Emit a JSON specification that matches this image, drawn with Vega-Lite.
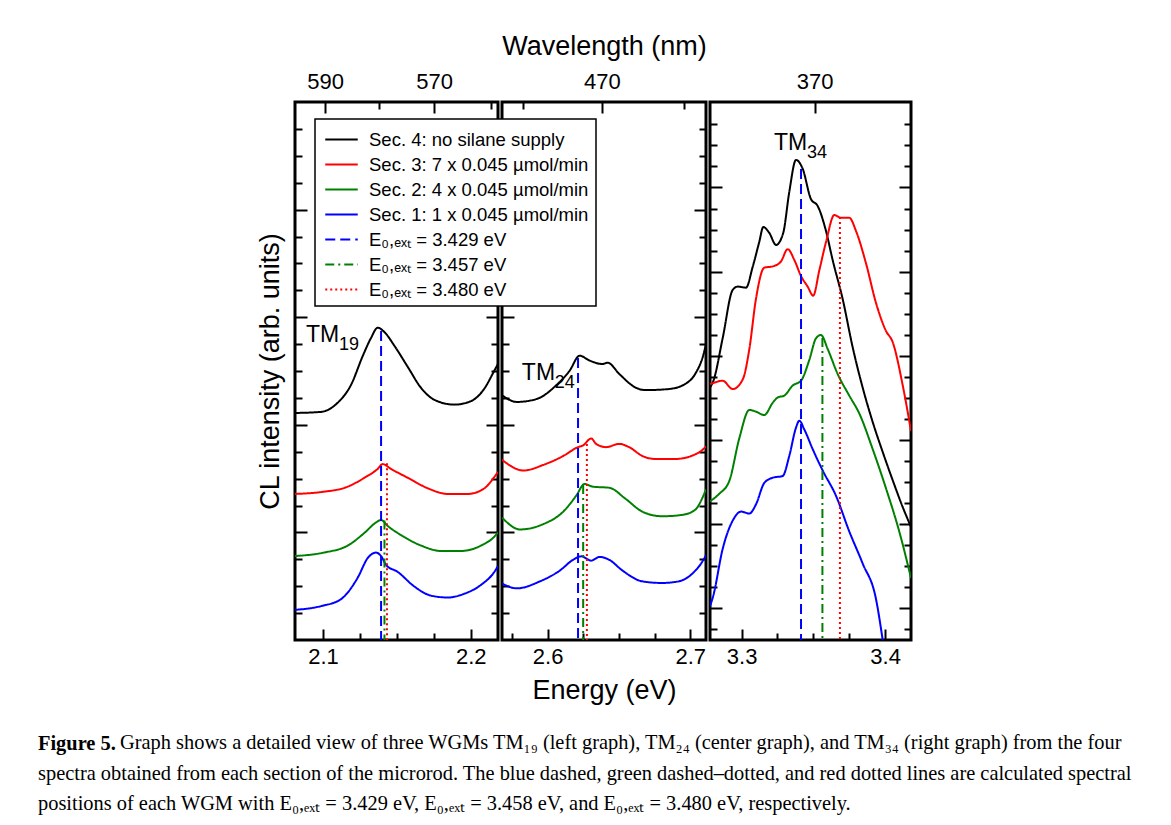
{
  "$schema": "https://vega.github.io/schema/vega-lite/v6.json",
  "background": "white",
  "padding": {"left": 36, "top": 30, "right": 5, "bottom": 5},
  "bounds": "flush",
  "spacing": 4,
  "datasets": {
    "spectra": [
      {"p":1,"s":"S4","E":2.081,"I":8.44},{"p":1,"s":"S4","E":2.0986,"I":8.48},{"p":1,"s":"S4","E":2.1099,"I":8.82},{"p":1,"s":"S4","E":2.1189,"I":9.48},{"p":1,"s":"S4","E":2.1269,"I":10.56},{"p":1,"s":"S4","E":2.1325,"I":11.23},{"p":1,"s":"S4","E":2.137,"I":11.61},{"p":1,"s":"S4","E":2.1415,"I":11.45},{"p":1,"s":"S4","E":2.1483,"I":10.94},{"p":1,"s":"S4","E":2.1574,"I":10.15},{"p":1,"s":"S4","E":2.1664,"I":9.37},{"p":1,"s":"S4","E":2.1754,"I":8.93},{"p":1,"s":"S4","E":2.1889,"I":8.75},{"p":1,"s":"S4","E":2.2002,"I":8.88},{"p":1,"s":"S4","E":2.2093,"I":9.35},{"p":1,"s":"S4","E":2.216,"I":10.01},{"p":1,"s":"S4","E":2.2185,"I":10.26},
      {"p":1,"s":"S3","E":2.081,"I":5.43},{"p":1,"s":"S3","E":2.0986,"I":5.5},{"p":1,"s":"S3","E":2.1167,"I":5.7},{"p":1,"s":"S3","E":2.128,"I":6.03},{"p":1,"s":"S3","E":2.137,"I":6.36},{"p":1,"s":"S3","E":2.1404,"I":6.54},{"p":1,"s":"S3","E":2.146,"I":6.36},{"p":1,"s":"S3","E":2.1574,"I":6.03},{"p":1,"s":"S3","E":2.1709,"I":5.64},{"p":1,"s":"S3","E":2.1845,"I":5.43},{"p":1,"s":"S3","E":2.198,"I":5.43},{"p":1,"s":"S3","E":2.2093,"I":5.64},{"p":1,"s":"S3","E":2.216,"I":6.06},{"p":1,"s":"S3","E":2.2185,"I":6.25},
      {"p":1,"s":"S2","E":2.081,"I":3.12},{"p":1,"s":"S2","E":2.1006,"I":3.25},{"p":1,"s":"S2","E":2.1167,"I":3.51},{"p":1,"s":"S2","E":2.128,"I":3.98},{"p":1,"s":"S2","E":2.1359,"I":4.37},{"p":1,"s":"S2","E":2.1393,"I":4.46},{"p":1,"s":"S2","E":2.1438,"I":4.24},{"p":1,"s":"S2","E":2.1528,"I":3.9},{"p":1,"s":"S2","E":2.1664,"I":3.51},{"p":1,"s":"S2","E":2.1799,"I":3.31},{"p":1,"s":"S2","E":2.1935,"I":3.31},{"p":1,"s":"S2","E":2.207,"I":3.51},{"p":1,"s":"S2","E":2.216,"I":3.84},{"p":1,"s":"S2","E":2.2185,"I":4.0},
      {"p":1,"s":"S1","E":2.081,"I":1.12},{"p":1,"s":"S1","E":2.0986,"I":1.26},{"p":1,"s":"S1","E":2.1122,"I":1.52},{"p":1,"s":"S1","E":2.1235,"I":2.32},{"p":1,"s":"S1","E":2.1303,"I":3.05},{"p":1,"s":"S1","E":2.1359,"I":3.25},{"p":1,"s":"S1","E":2.1393,"I":3.12},{"p":1,"s":"S1","E":2.1427,"I":2.79},{"p":1,"s":"S1","E":2.1506,"I":2.53},{"p":1,"s":"S1","E":2.1618,"I":1.99},{"p":1,"s":"S1","E":2.1731,"I":1.65},{"p":1,"s":"S1","E":2.1845,"I":1.58},{"p":1,"s":"S1","E":2.1957,"I":1.72},{"p":1,"s":"S1","E":2.207,"I":2.05},{"p":1,"s":"S1","E":2.216,"I":2.53},{"p":1,"s":"S1","E":2.2185,"I":2.75},
      {"p":2,"s":"S4","E":2.568,"I":9.1},{"p":2,"s":"S4","E":2.5784,"I":8.85},{"p":2,"s":"S4","E":2.5923,"I":8.96},{"p":2,"s":"S4","E":2.6062,"I":9.48},{"p":2,"s":"S4","E":2.6154,"I":10.01},{"p":2,"s":"S4","E":2.6224,"I":10.57},{"p":2,"s":"S4","E":2.6293,"I":10.39},{"p":2,"s":"S4","E":2.6386,"I":10.26},{"p":2,"s":"S4","E":2.6421,"I":10.31},{"p":2,"s":"S4","E":2.6502,"I":9.89},{"p":2,"s":"S4","E":2.6618,"I":9.38},{"p":2,"s":"S4","E":2.6687,"I":9.29},{"p":2,"s":"S4","E":2.6849,"I":9.33},{"p":2,"s":"S4","E":2.6965,"I":9.52},{"p":2,"s":"S4","E":2.7034,"I":9.89},{"p":2,"s":"S4","E":2.7092,"I":10.61},{"p":2,"s":"S4","E":2.711,"I":11.0},
      {"p":2,"s":"S3","E":2.568,"I":6.7},{"p":2,"s":"S3","E":2.5831,"I":6.3},{"p":2,"s":"S3","E":2.597,"I":6.51},{"p":2,"s":"S3","E":2.6109,"I":6.84},{"p":2,"s":"S3","E":2.6213,"I":7.17},{"p":2,"s":"S3","E":2.6247,"I":7.23},{"p":2,"s":"S3","E":2.6305,"I":7.49},{"p":2,"s":"S3","E":2.634,"I":7.29},{"p":2,"s":"S3","E":2.6409,"I":7.17},{"p":2,"s":"S3","E":2.6502,"I":7.29},{"p":2,"s":"S3","E":2.6571,"I":7.17},{"p":2,"s":"S3","E":2.6664,"I":6.84},{"p":2,"s":"S3","E":2.6756,"I":6.73},{"p":2,"s":"S3","E":2.6895,"I":6.73},{"p":2,"s":"S3","E":2.7034,"I":6.9},{"p":2,"s":"S3","E":2.7092,"I":7.1},{"p":2,"s":"S3","E":2.711,"I":7.2},
      {"p":2,"s":"S2","E":2.568,"I":4.55},{"p":2,"s":"S2","E":2.5807,"I":4.11},{"p":2,"s":"S2","E":2.597,"I":4.31},{"p":2,"s":"S2","E":2.6109,"I":4.77},{"p":2,"s":"S2","E":2.6201,"I":5.37},{"p":2,"s":"S2","E":2.6258,"I":5.8},{"p":2,"s":"S2","E":2.6317,"I":5.7},{"p":2,"s":"S2","E":2.6432,"I":5.66},{"p":2,"s":"S2","E":2.6548,"I":5.24},{"p":2,"s":"S2","E":2.6664,"I":4.77},{"p":2,"s":"S2","E":2.6803,"I":4.6},{"p":2,"s":"S2","E":2.6942,"I":4.65},{"p":2,"s":"S2","E":2.7034,"I":4.84},{"p":2,"s":"S2","E":2.7092,"I":5.37},{"p":2,"s":"S2","E":2.711,"I":5.6},
      {"p":2,"s":"S1","E":2.568,"I":2.1},{"p":2,"s":"S1","E":2.5784,"I":1.92},{"p":2,"s":"S1","E":2.5946,"I":2.18},{"p":2,"s":"S1","E":2.6085,"I":2.58},{"p":2,"s":"S1","E":2.6178,"I":2.98},{"p":2,"s":"S1","E":2.6236,"I":3.11},{"p":2,"s":"S1","E":2.6305,"I":2.95},{"p":2,"s":"S1","E":2.6363,"I":3.09},{"p":2,"s":"S1","E":2.6432,"I":2.98},{"p":2,"s":"S1","E":2.6525,"I":2.58},{"p":2,"s":"S1","E":2.6664,"I":2.18},{"p":2,"s":"S1","E":2.6803,"I":2.12},{"p":2,"s":"S1","E":2.6918,"I":2.18},{"p":2,"s":"S1","E":2.7011,"I":2.45},{"p":2,"s":"S1","E":2.7092,"I":2.98},{"p":2,"s":"S1","E":2.711,"I":3.15},
      {"p":3,"s":"S4","E":3.278,"I":12.0},{"p":3,"s":"S4","E":3.2803,"I":12.3},{"p":3,"s":"S4","E":3.2868,"I":14.33},{"p":3,"s":"S4","E":3.2938,"I":16.63},{"p":3,"s":"S4","E":3.2973,"I":16.79},{"p":3,"s":"S4","E":3.3031,"I":16.74},{"p":3,"s":"S4","E":3.3077,"I":17.72},{"p":3,"s":"S4","E":3.3123,"I":18.91},{"p":3,"s":"S4","E":3.3151,"I":19.62},{"p":3,"s":"S4","E":3.3193,"I":19.34},{"p":3,"s":"S4","E":3.324,"I":18.77},{"p":3,"s":"S4","E":3.329,"I":19.34},{"p":3,"s":"S4","E":3.3332,"I":21.28},{"p":3,"s":"S4","E":3.3379,"I":22.81},{"p":3,"s":"S4","E":3.3426,"I":22.38},{"p":3,"s":"S4","E":3.3483,"I":20.95},{"p":3,"s":"S4","E":3.353,"I":20.62},{"p":3,"s":"S4","E":3.3588,"I":19.43},{"p":3,"s":"S4","E":3.3634,"I":18.06},{"p":3,"s":"S4","E":3.3704,"I":16.2},{"p":3,"s":"S4","E":3.3774,"I":13.9},{"p":3,"s":"S4","E":3.3843,"I":12.0},{"p":3,"s":"S4","E":3.3913,"I":10.36},{"p":3,"s":"S4","E":3.3983,"I":8.93},{"p":3,"s":"S4","E":3.4052,"I":7.6},{"p":3,"s":"S4","E":3.4122,"I":6.32},{"p":3,"s":"S4","E":3.418,"I":5.37},
      {"p":3,"s":"S3","E":3.278,"I":12.16},{"p":3,"s":"S3","E":3.2803,"I":12.21},{"p":3,"s":"S3","E":3.2868,"I":12.32},{"p":3,"s":"S3","E":3.2938,"I":11.92},{"p":3,"s":"S3","E":3.3008,"I":12.38},{"p":3,"s":"S3","E":3.3054,"I":13.82},{"p":3,"s":"S3","E":3.31,"I":16.2},{"p":3,"s":"S3","E":3.3158,"I":17.69},{"p":3,"s":"S3","E":3.3217,"I":17.75},{"p":3,"s":"S3","E":3.3274,"I":17.98},{"p":3,"s":"S3","E":3.3321,"I":18.57},{"p":3,"s":"S3","E":3.3367,"I":18.06},{"p":3,"s":"S3","E":3.3414,"I":17.29},{"p":3,"s":"S3","E":3.346,"I":16.79},{"p":3,"s":"S3","E":3.3499,"I":16.36},{"p":3,"s":"S3","E":3.3541,"I":17.55},{"p":3,"s":"S3","E":3.3588,"I":18.91},{"p":3,"s":"S3","E":3.3646,"I":20.19},{"p":3,"s":"S3","E":3.3692,"I":20.06},{"p":3,"s":"S3","E":3.375,"I":20.06},{"p":3,"s":"S3","E":3.3797,"I":19.43},{"p":3,"s":"S3","E":3.3866,"I":17.91},{"p":3,"s":"S3","E":3.3936,"I":16.02},{"p":3,"s":"S3","E":3.4006,"I":14.68},{"p":3,"s":"S3","E":3.4052,"I":14.16},{"p":3,"s":"S3","E":3.4122,"I":12.11},{"p":3,"s":"S3","E":3.418,"I":9.93},
      {"p":3,"s":"S2","E":3.278,"I":6.6},{"p":3,"s":"S2","E":3.2803,"I":6.7},{"p":3,"s":"S2","E":3.2845,"I":6.95},{"p":3,"s":"S2","E":3.2914,"I":7.55},{"p":3,"s":"S2","E":3.2984,"I":9.58},{"p":3,"s":"S2","E":3.3054,"I":10.93},{"p":3,"s":"S2","E":3.31,"I":10.85},{"p":3,"s":"S2","E":3.3158,"I":10.69},{"p":3,"s":"S2","E":3.3217,"I":11.27},{"p":3,"s":"S2","E":3.3251,"I":11.52},{"p":3,"s":"S2","E":3.3297,"I":11.61},{"p":3,"s":"S2","E":3.3356,"I":12.09},{"p":3,"s":"S2","E":3.3414,"I":12.32},{"p":3,"s":"S2","E":3.3472,"I":13.31},{"p":3,"s":"S2","E":3.3518,"I":14.33},{"p":3,"s":"S2","E":3.3553,"I":14.49},{"p":3,"s":"S2","E":3.36,"I":13.82},{"p":3,"s":"S2","E":3.3669,"I":12.64},{"p":3,"s":"S2","E":3.375,"I":11.61},{"p":3,"s":"S2","E":3.382,"I":10.76},{"p":3,"s":"S2","E":3.3913,"I":9.07},{"p":3,"s":"S2","E":3.4006,"I":7.2},{"p":3,"s":"S2","E":3.4098,"I":5.16},{"p":3,"s":"S2","E":3.418,"I":2.95},
      {"p":3,"s":"S1","E":3.278,"I":1.6},{"p":3,"s":"S1","E":3.2803,"I":2.11},{"p":3,"s":"S1","E":3.2868,"I":4.32},{"p":3,"s":"S1","E":3.2938,"I":5.67},{"p":3,"s":"S1","E":3.2996,"I":6.1},{"p":3,"s":"S1","E":3.3054,"I":6.01},{"p":3,"s":"S1","E":3.31,"I":6.44},{"p":3,"s":"S1","E":3.3158,"I":7.46},{"p":3,"s":"S1","E":3.3217,"I":7.71},{"p":3,"s":"S1","E":3.3286,"I":7.79},{"p":3,"s":"S1","E":3.3332,"I":8.74},{"p":3,"s":"S1","E":3.3379,"I":10.09},{"p":3,"s":"S1","E":3.3402,"I":10.42},{"p":3,"s":"S1","E":3.3437,"I":10.0},{"p":3,"s":"S1","E":3.3495,"I":9.07},{"p":3,"s":"S1","E":3.3565,"I":8.05},{"p":3,"s":"S1","E":3.3657,"I":6.86},{"p":3,"s":"S1","E":3.375,"I":5.16},{"p":3,"s":"S1","E":3.3843,"I":3.64},{"p":3,"s":"S1","E":3.3936,"I":1.95},{"p":3,"s":"S1","E":3.3985,"I":-0.1}
    ],
    "rules": [
      {"p":1,"s":"EA","E":2.1393,"I":11.49},{"p":1,"s":"EB","E":2.1416,"I":4.44},{"p":1,"s":"EC","E":2.1433,"I":6.57},
      {"p":2,"s":"EA","E":2.6213,"I":10.48},{"p":2,"s":"EB","E":2.6249,"I":5.76},{"p":2,"s":"EC","E":2.6275,"I":7.29},
      {"p":3,"s":"EA","E":3.3414,"I":22.38},{"p":3,"s":"EB","E":3.3563,"I":14.35},{"p":3,"s":"EC","E":3.3685,"I":20.1}
    ],
    "ann": [
      {"p":1,"E":2.0885,"I":11.34,"main":"TM","sub":"19"},
      {"p":2,"E":2.5819,"I":9.93,"main":"TM","sub":"24"},
      {"p":3,"E":3.3226,"I":23.61,"main":"TM","sub":"34"}
    ]
  },
  "hconcat": [
    {
      "width": 203, "height": 538,
      "title": {"text": "Figure 5.", "fontWeight": "bold", "dx": -257, "offset": 67},
      "resolve": {"axis": {"x": "independent", "y": "independent"}},
      "layer": [
        {
          "data": {"name": "spectra"},
          "transform": [{"filter": "datum.p == 1"}],
          "mark": {"type": "line", "strokeWidth": 2, "clip": true, "interpolate": "monotone"},
          "encoding": {
            "x": {"field": "E", "type": "quantitative", "scale": {"domain": [2.081, 2.2185], "nice": false, "zero": false}, "axis": {"orient": "bottom", "values": [2.1, 2.2], "format": ".1f", "tickSize": -11, "labelPadding": 17, "title": null}},
            "y": {"field": "I", "type": "quantitative", "scale": {"domain": [0, 20], "nice": false, "zero": false}, "axis": {"orient": "left", "values": [4, 8, 12, 16], "tickSize": -12, "labels": false, "title": "CL intensity (arb. units)", "titlePadding": 10}},
            "color": {"field": "s", "type": "nominal", "scale": {"domain": ["S4","S3","S2","S1","EA","EB","EC"], "range": ["#000000","#ff0000","#008000","#0000ff","#0000ff","#008000","#ff0000"]},
              "legend": {"labelExpr": "datum.value == 'S4' ? 'Sec. 4: no silane supply' : datum.value == 'S3' ? 'Sec. 3: 7 x 0.045 µmol/min' : datum.value == 'S2' ? 'Sec. 2: 4 x 0.045 µmol/min' : datum.value == 'S1' ? 'Sec. 1: 1 x 0.045 µmol/min' : datum.value == 'EA' ? 'E₀,ₑₓₜ = 3.429 eV' : datum.value == 'EB' ? 'E₀,ₑₓₜ = 3.457 eV' : 'E₀,ₑₓₜ = 3.480 eV'"}},
            "strokeDash": {"field": "s", "type": "nominal", "scale": {"domain": ["S4","S3","S2","S1","EA","EB","EC"], "range": [[1,0],[1,0],[1,0],[1,0],[10,5],[9,4,2,4],[2,3]]},
              "legend": {"labelExpr": "datum.value == 'S4' ? 'Sec. 4: no silane supply' : datum.value == 'S3' ? 'Sec. 3: 7 x 0.045 µmol/min' : datum.value == 'S2' ? 'Sec. 2: 4 x 0.045 µmol/min' : datum.value == 'S1' ? 'Sec. 1: 1 x 0.045 µmol/min' : datum.value == 'EA' ? 'E₀,ₑₓₜ = 3.429 eV' : datum.value == 'EB' ? 'E₀,ₑₓₜ = 3.457 eV' : 'E₀,ₑₓₜ = 3.480 eV'"}}
          }
        },
        {
          "data": {"name": "rules"},
          "transform": [{"filter": "datum.p == 1"}],
          "mark": {"type": "rule", "strokeWidth": 2},
          "encoding": {
            "x": {"field": "E", "type": "quantitative", "scale": {"domain": [2.081, 2.2185], "nice": false, "zero": false}, "axis": {"orient": "bottom", "values": [2.125, 2.15, 2.175], "tickSize": -7, "labels": false, "title": null}},
            "y": {"field": "I", "type": "quantitative", "scale": {"domain": [0, 20], "nice": false, "zero": false}, "axis": {"orient": "left", "values": [1,2,3,5,6,7,9,10,11,13,14,15,17,18,19], "tickSize": -7, "labels": false, "title": null}},
            "y2": {"datum": 0},
            "color": {"field": "s", "type": "nominal"},
            "strokeDash": {"field": "s", "type": "nominal"}
          }
        },
        {
          "data": {"name": "ann"},
          "transform": [{"filter": "datum.p == 1"}],
          "mark": {"type": "text", "align": "left", "baseline": "middle", "fontSize": 23},
          "encoding": {
            "x": {"field": "E", "type": "quantitative", "scale": {"domain": [2.081, 2.2185], "nice": false, "zero": false}, "axis": {"orient": "top", "values": [2.10142, 2.17516], "labelExpr": "format(1239.84/datum.value, '.0f')", "tickSize": -11, "labelPadding": 20, "title": null}},
            "y": {"field": "I", "type": "quantitative", "scale": {"domain": [0, 20], "nice": false, "zero": false}, "axis": {"orient": "right", "values": [4, 8, 12, 16], "tickSize": -12, "labels": false, "title": null}},
            "text": {"field": "main"}
          }
        },
        {
          "data": {"name": "ann"},
          "transform": [{"filter": "datum.p == 1"}],
          "mark": {"type": "text", "align": "left", "baseline": "middle", "fontSize": 18, "dx": 33, "dy": 10},
          "encoding": {
            "x": {"field": "E", "type": "quantitative", "scale": {"domain": [2.081, 2.2185], "nice": false, "zero": false}, "axis": {"orient": "top", "values": [2.13766, 2.214], "tickSize": -7, "labels": false, "title": null}},
            "y": {"field": "I", "type": "quantitative", "scale": {"domain": [0, 20], "nice": false, "zero": false}, "axis": {"orient": "right", "values": [1,2,3,5,6,7,9,10,11,13,14,15,17,18,19], "tickSize": -7, "labels": false, "title": null}},
            "text": {"field": "sub"}
          }
        }
      ]
    },
    {
      "width": 204, "height": 538,
      "title": {"text": "Graph shows a detailed view of three WGMs TM₁₉ (left graph), TM₂₄ (center graph), and TM₃₄ (right graph) from the four", "dx": -382, "offset": 30},
      "resolve": {"axis": {"x": "independent", "y": "independent"}},
      "layer": [
        {
          "data": {"name": "spectra"},
          "transform": [{"filter": "datum.p == 2"}],
          "mark": {"type": "line", "strokeWidth": 2, "clip": true, "interpolate": "monotone"},
          "encoding": {
            "x": {"field": "E", "type": "quantitative", "scale": {"domain": [2.568, 2.711], "nice": false, "zero": false}, "axis": {"orient": "bottom", "values": [2.6, 2.7], "format": ".1f", "tickSize": -11, "labelPadding": 17, "title": "Energy (eV)", "titlePadding": 10}},
            "y": {"field": "I", "type": "quantitative", "scale": {"domain": [0, 20], "nice": false, "zero": false}, "axis": {"orient": "left", "values": [4, 8, 12, 16], "tickSize": -12, "labels": false, "title": null}},
            "color": {"field": "s", "type": "nominal"},
            "strokeDash": {"field": "s", "type": "nominal"}
          }
        },
        {
          "data": {"name": "rules"},
          "transform": [{"filter": "datum.p == 2"}],
          "mark": {"type": "rule", "strokeWidth": 2},
          "encoding": {
            "x": {"field": "E", "type": "quantitative", "scale": {"domain": [2.568, 2.711], "nice": false, "zero": false}, "axis": {"orient": "bottom", "values": [2.575, 2.625, 2.65, 2.675], "tickSize": -7, "labels": false, "title": null}},
            "y": {"field": "I", "type": "quantitative", "scale": {"domain": [0, 20], "nice": false, "zero": false}, "axis": {"orient": "left", "values": [1,2,3,5,6,7,9,10,11,13,14,15,17,18,19], "tickSize": -7, "labels": false, "title": null}},
            "y2": {"datum": 0},
            "color": {"field": "s", "type": "nominal"},
            "strokeDash": {"field": "s", "type": "nominal"}
          }
        },
        {
          "data": {"name": "ann"},
          "transform": [{"filter": "datum.p == 2"}],
          "mark": {"type": "text", "align": "left", "baseline": "middle", "fontSize": 23},
          "encoding": {
            "x": {"field": "E", "type": "quantitative", "scale": {"domain": [2.568, 2.711], "nice": false, "zero": false}, "axis": {"orient": "top", "values": [2.63796], "labelExpr": "format(1239.84/datum.value, '.0f')", "tickSize": -11, "labelPadding": 20, "title": "Wavelength (nm)", "titlePadding": 10}},
            "y": {"field": "I", "type": "quantitative", "scale": {"domain": [0, 20], "nice": false, "zero": false}, "axis": {"orient": "right", "values": [4, 8, 12, 16], "tickSize": -12, "labels": false, "title": null}},
            "text": {"field": "main"}
          }
        },
        {
          "data": {"name": "ann"},
          "transform": [{"filter": "datum.p == 2"}],
          "mark": {"type": "text", "align": "left", "baseline": "middle", "fontSize": 18, "dx": 33, "dy": 10},
          "encoding": {
            "x": {"field": "E", "type": "quantitative", "scale": {"domain": [2.568, 2.711], "nice": false, "zero": false}, "axis": {"orient": "top", "values": [2.583, 2.6953], "tickSize": -7, "labels": false, "title": null}},
            "y": {"field": "I", "type": "quantitative", "scale": {"domain": [0, 20], "nice": false, "zero": false}, "axis": {"orient": "right", "values": [1,2,3,5,6,7,9,10,11,13,14,15,17,18,19], "tickSize": -7, "labels": false, "title": null}},
            "text": {"field": "sub"}
          }
        }
      ]
    },
    {
      "width": 201, "height": 538,
      "title": {"text": ["spectra obtained from each section of the microrod. The blue dashed, green dashed–dotted, and red dotted lines are calculated spectral", "positions of each WGM with E₀,ₑₓₜ = 3.429 eV, E₀,ₑₓₜ = 3.458 eV, and E₀,ₑₓₜ = 3.480 eV, respectively."], "dx": -672, "offset": 97},
      "resolve": {"axis": {"x": "independent", "y": "independent"}},
      "layer": [
        {
          "data": {"name": "spectra"},
          "transform": [{"filter": "datum.p == 3"}],
          "mark": {"type": "line", "strokeWidth": 2, "clip": true, "interpolate": "monotone"},
          "encoding": {
            "x": {"field": "E", "type": "quantitative", "scale": {"domain": [3.278, 3.418], "nice": false, "zero": false}, "axis": {"orient": "bottom", "values": [3.3, 3.4], "format": ".1f", "tickSize": -11, "labelPadding": 17, "title": null}},
            "y": {"field": "I", "type": "quantitative", "scale": {"domain": [0, 25.56], "nice": false, "zero": false}, "axis": {"orient": "left", "values": [1.5, 5.5, 9.5, 13.5, 17.5, 21.5], "tickSize": -12, "labels": false, "title": null}},
            "color": {"field": "s", "type": "nominal"},
            "strokeDash": {"field": "s", "type": "nominal"}
          }
        },
        {
          "data": {"name": "rules"},
          "transform": [{"filter": "datum.p == 3"}],
          "mark": {"type": "rule", "strokeWidth": 2},
          "encoding": {
            "x": {"field": "E", "type": "quantitative", "scale": {"domain": [3.278, 3.418], "nice": false, "zero": false}, "axis": {"orient": "bottom", "values": [3.325, 3.35, 3.375], "tickSize": -7, "labels": false, "title": null}},
            "y": {"field": "I", "type": "quantitative", "scale": {"domain": [0, 25.56], "nice": false, "zero": false}, "axis": {"orient": "left", "values": [0.5,2.5,3.5,4.5,6.5,7.5,8.5,10.5,11.5,12.5,14.5,15.5,16.5,18.5,19.5,20.5,22.5,23.5,24.5], "tickSize": -7, "labels": false, "title": null}},
            "y2": {"datum": 0},
            "color": {"field": "s", "type": "nominal"},
            "strokeDash": {"field": "s", "type": "nominal"}
          }
        },
        {
          "data": {"name": "ann"},
          "transform": [{"filter": "datum.p == 3"}],
          "mark": {"type": "text", "align": "left", "baseline": "middle", "fontSize": 23},
          "encoding": {
            "x": {"field": "E", "type": "quantitative", "scale": {"domain": [3.278, 3.418], "nice": false, "zero": false}, "axis": {"orient": "top", "values": [3.35092], "labelExpr": "format(1239.84/datum.value, '.0f')", "tickSize": -11, "labelPadding": 20, "title": null}},
            "y": {"field": "I", "type": "quantitative", "scale": {"domain": [0, 25.56], "nice": false, "zero": false}, "axis": {"orient": "right", "values": [1.5, 5.5, 9.5, 13.5, 17.5, 21.5], "tickSize": -12, "labels": false, "title": null}},
            "text": {"field": "main"}
          }
        },
        {
          "data": {"name": "ann"},
          "transform": [{"filter": "datum.p == 3"}],
          "mark": {"type": "text", "align": "left", "baseline": "middle", "fontSize": 18, "dx": 33, "dy": 10},
          "encoding": {
            "x": {"field": "E", "type": "quantitative", "scale": {"domain": [3.278, 3.418], "nice": false, "zero": false}, "axis": null},
            "y": {"field": "I", "type": "quantitative", "scale": {"domain": [0, 25.56], "nice": false, "zero": false}, "axis": {"orient": "right", "values": [0.5,2.5,3.5,4.5,6.5,7.5,8.5,10.5,11.5,12.5,14.5,15.5,16.5,18.5,19.5,20.5,22.5,23.5,24.5], "tickSize": -7, "labels": false, "title": null}},
            "text": {"field": "sub"}
          }
        }
      ]
    }
  ],
  "resolve": {
    "scale": {"x": "independent", "y": "independent", "color": "shared", "strokeDash": "shared"},
    "legend": {"color": "shared", "strokeDash": "shared"}
  },
  "config": {
    "view": {"stroke": "black", "strokeWidth": 3},
    "axis": {"domain": false, "grid": false, "tickColor": "black", "tickWidth": 2, "labelFont": "Liberation Sans", "labelFontSize": 22, "labelColor": "black", "titleFont": "Liberation Sans", "titleFontSize": 27, "titleFontWeight": "normal", "titleColor": "black", "minExtent": 0, "labelAngle": 0},
    "text": {"font": "Liberation Sans", "color": "black"},
    "title": {"font": "Liberation Serif", "fontSize": 20.4, "fontWeight": "normal", "color": "black", "anchor": "start", "frame": "group", "orient": "bottom", "baseline": "alphabetic", "lineHeight": 29.5},
    "legend": {
      "orient": "none", "legendX": 20, "legendY": 17, "title": null,
      "strokeColor": "black", "strokeWidth": 1.5, "fillColor": "white", "padding": 7,
      "symbolType": "M-1.3,0H1.3", "symbolSize": 625, "symbolStrokeWidth": 2, "symbolOffset": 6,
      "labelFont": "Liberation Sans", "labelFontSize": 18.5, "labelColor": "black", "labelOffset": 14, "rowPadding": 2, "labelLimit": 400
    }
  }
}
